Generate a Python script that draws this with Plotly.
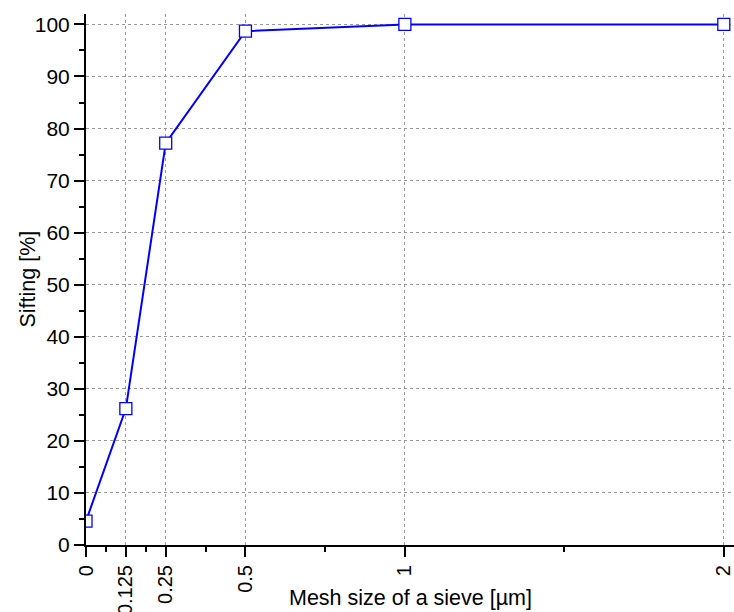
import plotly.graph_objects as go

mesh = [0, 0.125, 0.25, 0.5, 1, 2]
sifting = [4.6, 26.2, 77.2, 98.7, 100, 100]
xtick_vals = [0, 0.125, 0.25, 0.5, 1, 2]
xtick_text = ["0", "0.125", "0.25", "0.5", "1", "2"]
xminor_vals = [0.0625, 0.1875, 0.375, 0.75, 1.5]
ytick_vals = list(range(0, 101, 10))

fig = go.Figure()
fig.add_trace(go.Scatter(
    x=mesh, y=sifting, mode="lines+markers",
    line=dict(color="#0000ff", width=2),
    marker=dict(symbol="square", size=12, color="white",
                line=dict(color="#0000ff", width=1.3)),
    cliponaxis=True,
))

font = "Liberation Sans, Arial, sans-serif"
fig.update_layout(
    width=734, height=612,
    margin=dict(l=86, r=0, t=14, b=67),
    plot_bgcolor="white", paper_bgcolor="white",
    showlegend=False,
    font=dict(family=font, size=20, color="black"),
    annotations=[
        dict(text="Mesh size of a sieve [µm]", xref="paper", yref="paper",
             x=0.5, y=0, xanchor="center", yanchor="middle", yshift=-53,
             showarrow=False, font=dict(size=21.5)),
        dict(text="Sifting [%]", xref="paper", yref="paper", textangle=-90,
             x=0, y=0.5, xanchor="center", yanchor="middle", xshift=-59,
             showarrow=False, font=dict(size=21.5)),
    ],
)
fig.update_xaxes(
    range=[0, 2.032], automargin=False,
    tickmode="array", tickvals=xtick_vals, ticktext=xtick_text,
    tickangle=-90, ticklabeloverflow="allow",
    ticks="outside", ticklen=10, tickwidth=1.5, tickcolor="black",
    showline=True, linecolor="black", linewidth=2,
    showgrid=True, gridcolor="#999999", gridwidth=1, griddash="3px,3px",
    zeroline=False,
    minor=dict(tickmode="array", tickvals=xminor_vals, ticks="outside",
               ticklen=5, tickwidth=1.5, tickcolor="black", showgrid=False),
    tickfont=dict(size=20),
)
fig.update_yaxes(
    range=[0, 102], automargin=False,
    tickmode="array", tickvals=ytick_vals,
    ticksuffix="\u00a0",
    ticks="outside", ticklen=10, tickwidth=1.5, tickcolor="black",
    showline=True, linecolor="black", linewidth=2,
    showgrid=True, gridcolor="#999999", gridwidth=1, griddash="3px,3px",
    zeroline=False,
    minor=dict(tickmode="linear", tick0=5, dtick=10, ticks="outside",
               ticklen=5, tickwidth=1.5, tickcolor="black", showgrid=False),
    tickfont=dict(size=21),
)

fig.write_html("out.html")
